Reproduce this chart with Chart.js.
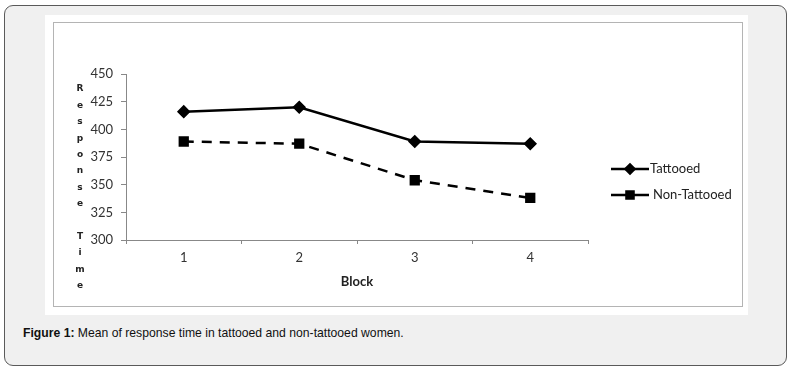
<!DOCTYPE html>
<html>
<head>
<meta charset="utf-8">
<script src="https://cdn.jsdelivr.net/npm/chart.js@4.4.0/dist/chart.umd.min.js"></script>
<style>
  body { margin: 0; background: #fff; width: 792px; height: 373px; position: relative; overflow: hidden; }
  .box { position: absolute; left: 4px; top: 5px; width: 781px; height: 359px; background: #f0f0f0; border: 1px solid #5a5a5a; border-radius: 9px; }
  .paper { position: absolute; left: 45px; top: 15px; width: 703px; height: 300px; background: #fff; }
  .frame { position: absolute; left: 53px; top: 22px; width: 688px; height: 283px; border: 1px solid #b4b4b4; }
  #myChart { position: absolute; left: 54px; top: 23px; }
  .caption { position: absolute; left: 23px; top: 326px; font: 12.2px "Liberation Sans", Arial, sans-serif; color: #111; }
</style>
</head>
<body>
<div class="box"></div>
<div class="paper"></div>
<div class="frame"></div>
<canvas id="myChart" width="688" height="283"></canvas>
<div class="caption"><b>Figure 1:</b> Mean of response time in tattooed and non-tattooed women.</div>
<script>
const blocks = ['1', '2', '3', '4'];
const tattooed = [416, 420, 389, 387];
const nonTattooed = [389, 387, 354, 338];
const yMin = 300, yMax = 450, yStep = 25;
const yTitle = 'Response Time';

const axisGray = '#888888';
const tickFont = { family: 'Lato', size: 13 };

// vertical stacked letters for the y title
const stackedTitle = {
  id: 'stackedTitle',
  afterDraw(chart) {
    const ctx = chart.ctx;
    const area = chart.chartArea;
    ctx.save();
    ctx.font = 'bold 9px "DejaVu Sans"';
    ctx.fillStyle = '#222';
    ctx.textAlign = 'center';
    ctx.textBaseline = 'middle';
    let letters = yTitle.split('');
    letters.forEach((ch, i) => {
      if (ch !== ' ') ctx.fillText(ch, 26, area.top + 15 + i * 16.4);
    });
    ctx.restore();
  }
};

// legend on the right: line with marker in the middle
const sideLegend = {
  id: 'sideLegend',
  afterDraw(chart) {
    const ctx = chart.ctx;
    const area = chart.chartArea;
    const x0 = area.right + 23;
    ctx.save();
    chart.data.datasets.forEach((ds, i) => {
      const y = area.top + 95 + i * 26;
      ctx.strokeStyle = '#000';
      ctx.lineWidth = 2.5;
      ctx.beginPath();
      ctx.moveTo(x0, y);
      ctx.lineTo(x0 + 38, y);
      ctx.stroke();
      ctx.fillStyle = '#000';
      Chart.helpers.drawPoint(ctx, {
        pointStyle: ds.pointStyle, radius: ds.pointRadius - 0.5, rotation: 0, borderWidth: 1
      }, x0 + 19, y);
      ctx.font = '13px Lato';
      ctx.fillStyle = '#222';
      ctx.textBaseline = 'middle';
      ctx.fillText(ds.label, x0 + 39 + (i === 1 ? 3 : 0), y);
    });
    ctx.restore();
  }
};

const ctx = document.getElementById('myChart');

const myChart = new Chart(ctx, {
  type: 'line',
  data: {
    labels: blocks,
    datasets: [{
      label: 'Tattooed',
      data: tattooed,
      borderColor: '#000',
      backgroundColor: '#000',
      borderWidth: 2.5,
      pointStyle: 'rectRot',
      pointRadius: 5,
      pointBackgroundColor: '#000',
      pointBorderColor: '#000'
    }, {
      label: 'Non-Tattooed',
      data: nonTattooed,
      borderColor: '#000',
      backgroundColor: '#000',
      borderWidth: 2.5,
      borderDash: [10, 8],
      pointStyle: 'rect',
      pointRadius: 5.5,
      pointBackgroundColor: '#000',
      pointBorderColor: '#000'
    }]
  },
  options: {
    responsive: false,
    animation: false,
    layout: { padding: { top: 51, right: 154, bottom: 0, left: 0 } },
    plugins: { legend: { display: false }, tooltip: { enabled: false } },
    scales: {
      x: {
        offset: true,
        border: { color: axisGray, width: 1 },
        grid: { offset: true, drawOnChartArea: false, drawTicks: true, tickLength: 4, color: axisGray },
        ticks: { font: tickFont, color: '#333', padding: 6 },
        title: { display: true, text: 'Block', font: { family: 'Lato', size: 13, weight: 'bold' }, color: '#222', padding: { top: 6, bottom: 16 } },
        afterFit: s => { s.height = 66; }
      },
      y: {
        min: yMin,
        max: yMax,
        border: { color: axisGray, width: 1 },
        grid: { drawOnChartArea: false, drawTicks: true, tickLength: 5, color: axisGray },
        ticks: { stepSize: yStep, font: tickFont, color: '#333', padding: 8 },
        afterFit: s => { s.width = 72; }
      }
    }
  },
  plugins: [stackedTitle, sideLegend]
});
</script>
</body>
</html>
